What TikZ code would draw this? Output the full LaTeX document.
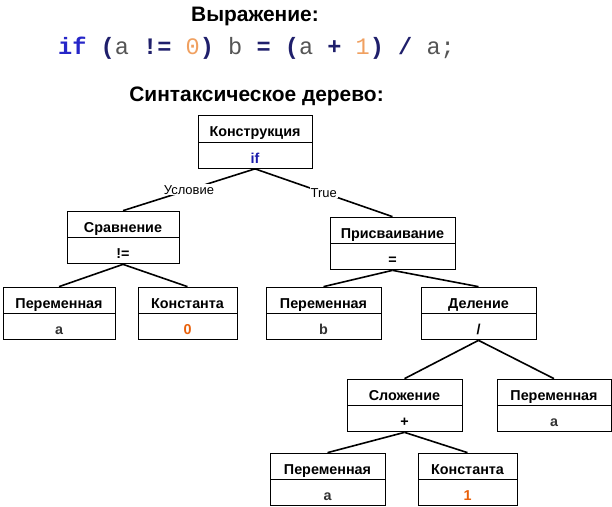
\documentclass[tikz,border=0pt]{standalone}
\usepackage{fontspec}
\setmainfont{Liberation Sans}
\newfontfamily\codefont{Liberation Mono}
\usetikzlibrary{shapes.multipart}
\definecolor{kwblue}{HTML}{2626C8}
\definecolor{navy}{HTML}{1F1F6B}
\definecolor{codegrey}{HTML}{555555}
\definecolor{codeorange}{HTML}{F0A060}
\definecolor{valorange}{HTML}{E8600A}
\definecolor{valgrey}{HTML}{333333}
\definecolor{ifblue}{HTML}{1A1AAA}
\newcommand{\st}{\rule[-3.5bp]{0pt}{23bp}}
\tikzset{
  box/.style={draw, line width=0.9bp, rectangle split, rectangle split parts=2,
    font=\bfseries\fontsize{14.4}{14.4}\selectfont, inner xsep=0pt, inner ysep=1.25bp,
    align=center, minimum width=#1},
  edge/.style={line width=1.6bp},
  elabel/.style={fill=white, inner sep=1bp, font=\fontsize{13}{13}\selectfont},
  titletext/.style={font=\bfseries\fontsize{21}{21}\selectfont}
}
\begin{document}
\begin{tikzpicture}[x=1bp,y=-1bp]
\useasboundingbox (0,0) rectangle (612,507);
\node[titletext] (t1) at (255,16) {Выражение:};
\node[font=\codefont\fontsize{23.7}{23.7}\selectfont] (code) at (256.5,48.5)
 {\textcolor{kwblue}{\bfseries if} \textcolor{navy}{\bfseries(}\textcolor{codegrey}{a} \textcolor{navy}{\bfseries!=} \textcolor{codeorange}{0}\textcolor{navy}{\bfseries)} \textcolor{codegrey}{b} \textcolor{navy}{\bfseries=} \textcolor{navy}{\bfseries(}\textcolor{codegrey}{a} \textcolor{navy}{\bfseries+} \textcolor{codeorange}{1}\textcolor{navy}{\bfseries)} \textcolor{navy}{\bfseries/} \textcolor{codegrey}{a;}};
\node[titletext] (t2) at (256.5,96) {Синтаксическое дерево:};

\node[box=114bp] (root) at (255,142) {\st Конструкция\nodepart{two}\st\textcolor{ifblue}{if}};
\node[box=112bp] (cmp) at (123,237.5) {\st Сравнение\nodepart{two}\st !=};
\node[box=112bp] (va) at (59,313.5) {\st Переменная\nodepart{two}\st\textcolor{valgrey}{a}};
\node[box=99bp] (c0) at (187.5,313.5) {\st Константа\nodepart{two}\st\textcolor{valorange}{0}};
\node[box=125bp] (asg) at (392.5,243.5) {\st Присваивание\nodepart{two}\st =};
\node[box=115bp] (vb) at (323.5,313.5) {\st Переменная\nodepart{two}\st\textcolor{valgrey}{b}};
\node[box=115bp] (div) at (478.5,313.5) {\st Деление\nodepart{two}\st /};
\node[box=115bp] (add) at (404.5,405.5) {\st Сложение\nodepart{two}\st +};
\node[box=114bp] (va2) at (554,405.5) {\st Переменная\nodepart{two}\st\textcolor{valgrey}{a}};
\node[box=115bp] (va3) at (327.5,479.5) {\st Переменная\nodepart{two}\st\textcolor{valgrey}{a}};
\node[box=99bp] (c1) at (467.5,479.5) {\st Константа\nodepart{two}\st\textcolor{valorange}{1}};

\draw[edge] (root.south) -- node[elabel] {Условие} (cmp.north);
\draw[edge] (root.south) -- node[elabel] {True} (asg.north);
\draw[edge] (cmp.south) -- (va.north);
\draw[edge] (cmp.south) -- (c0.north);
\draw[edge] (asg.south) -- (vb.north);
\draw[edge] (asg.south) -- (div.north);
\draw[edge] (div.south) -- (add.north);
\draw[edge] (div.south) -- (va2.north);
\draw[edge] (add.south) -- (va3.north);
\draw[edge] (add.south) -- (c1.north);
\end{tikzpicture}
\end{document}
